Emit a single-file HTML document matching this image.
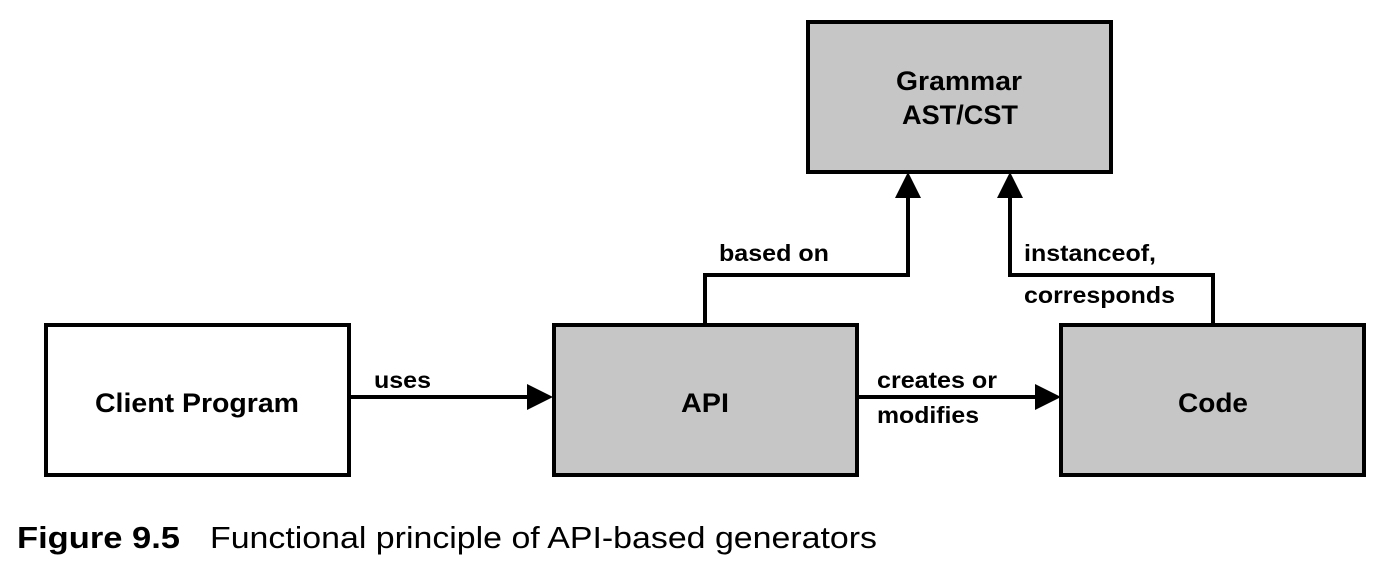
<!DOCTYPE html>
<html><head><meta charset="utf-8"><style>
html,body{margin:0;padding:0;background:#fff;}
svg{display:block;}
text{font-family:"Liberation Sans",Arial,sans-serif;}
</style></head><body>
<svg width="1390" height="582" viewBox="0 0 1390 582" xmlns="http://www.w3.org/2000/svg">
<g stroke="#000" stroke-width="4">
<rect x="808" y="22" width="303" height="150" fill="#c6c6c6"/>
<rect x="46" y="325" width="303" height="150" fill="#fff"/>
<rect x="554" y="325" width="303" height="150" fill="#c6c6c6"/>
<rect x="1061" y="325" width="303" height="150" fill="#c6c6c6"/>
<g fill="none">
<polyline points="349,397 530,397"/>
<polyline points="857,397 1038,397"/>
<polyline points="705,325 705,275 908,275 908,196"/>
<polyline points="1213,325 1213,275 1010,275 1010,196"/>
</g>
</g>
<g fill="#000">
<polygon points="553,397 527,384 527,410"/>
<polygon points="1061,397 1035,384 1035,410"/>
<polygon points="908,172 895,198 921,198"/>
<polygon points="1010,172 997,198 1023,198"/>
</g>
<g font-weight="bold" font-size="27" fill="#000" lengthAdjust="spacingAndGlyphs">
<text x="896" y="90" textLength="126" lengthAdjust="spacingAndGlyphs">Grammar</text>
<text x="902" y="124" textLength="116" lengthAdjust="spacingAndGlyphs">AST/CST</text>
<text x="95" y="412" textLength="204" lengthAdjust="spacingAndGlyphs">Client Program</text>
<text x="681" y="412" textLength="48" lengthAdjust="spacingAndGlyphs">API</text>
<text x="1178" y="412" textLength="70" lengthAdjust="spacingAndGlyphs">Code</text>
</g>
<g font-weight="bold" font-size="23" fill="#000">
<text x="719" y="261" textLength="110" lengthAdjust="spacingAndGlyphs">based on</text>
<text x="1024" y="261" textLength="132" lengthAdjust="spacingAndGlyphs">instanceof,</text>
<text x="1024" y="303" textLength="151" lengthAdjust="spacingAndGlyphs">corresponds</text>
<text x="374" y="388" textLength="57" lengthAdjust="spacingAndGlyphs">uses</text>
<text x="877" y="388" textLength="120" lengthAdjust="spacingAndGlyphs">creates or</text>
<text x="877" y="423" textLength="102" lengthAdjust="spacingAndGlyphs">modifies</text>
</g>
<text x="17" y="548" font-size="31" font-weight="bold" textLength="163" lengthAdjust="spacingAndGlyphs">Figure 9.5</text>
<text x="210" y="548" font-size="31" textLength="667" lengthAdjust="spacingAndGlyphs">Functional principle of API-based generators</text>
</svg>
</body></html>
